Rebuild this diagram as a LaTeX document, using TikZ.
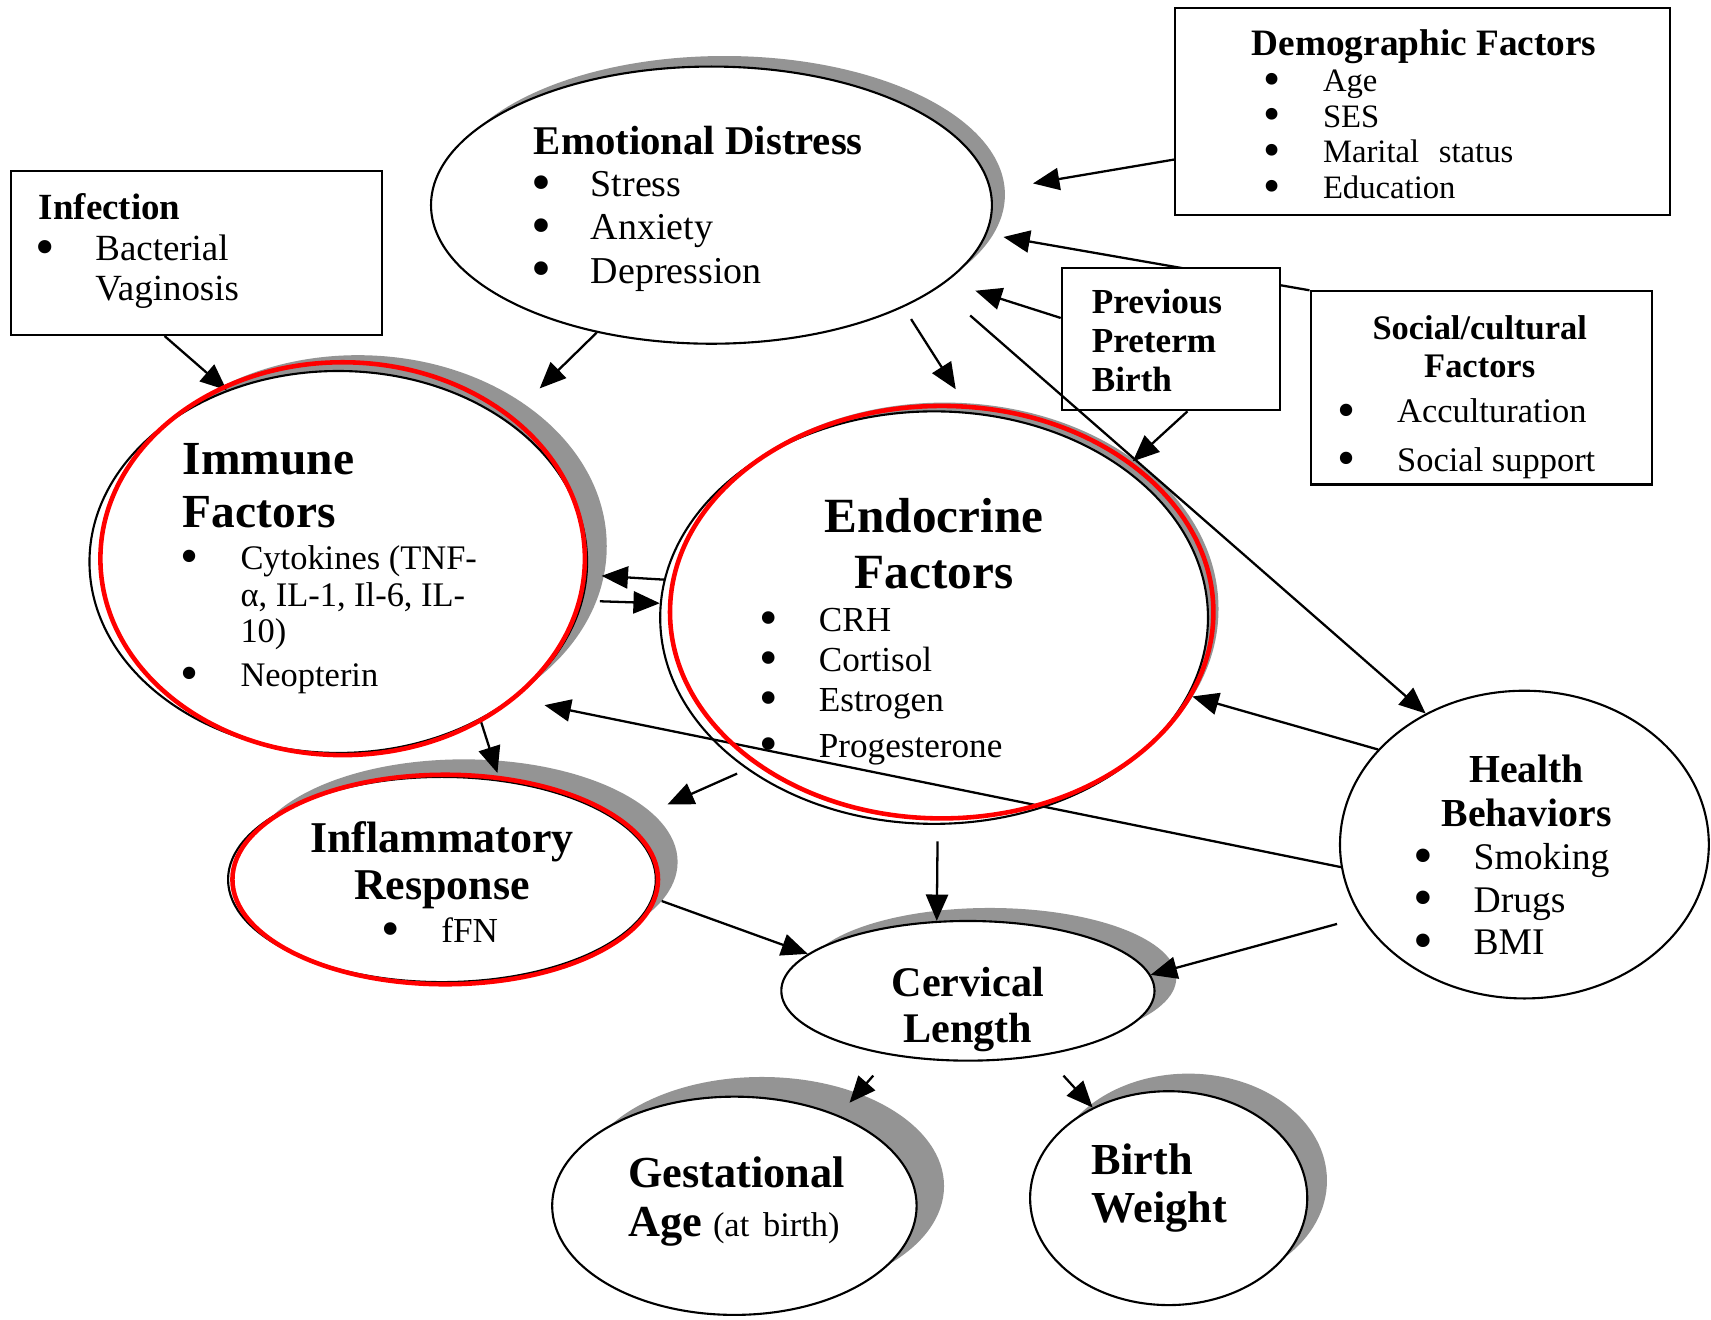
\documentclass[tikz,border=0pt]{standalone}
\usepackage{fontspec}
\usepackage{graphicx}
\setmainfont{Liberation Serif}
\usetikzlibrary{shapes.geometric,shadows,arrows.meta}
\newlength{\itmgap}
\setlength{\itmgap}{17pt}
\newcommand{\itm}[1]{\makebox[\itmgap][l]{\smash{\raisebox{-0.12em}{\scalebox{1.5}{\textbullet}}}}#1}
\newcommand{\fs}[2]{\fontsize{#1}{#2}\selectfont}
\newcommand{\pxu}{0.010912cm}

\begin{document}
\begin{tikzpicture}[x=\pxu, y=-\pxu,
    blob/.style={ellipse, draw, line width=0.6pt, fill=white, inner sep=0pt},
    shd/.style 2 args={drop shadow={shadow xshift=#1, shadow yshift=#2, fill=black!42, opacity=1}},
    box/.style={rectangle, draw, line width=0.6pt, fill=white, inner sep=0pt},
    arr/.style={line width=0.65pt, -{Triangle[length=7.5pt, width=6.3pt]}},
    hl/.style={draw=red, line width=1.3pt},
    txt/.style={inner sep=0pt, align=left, anchor=west},
    ttl/.style={inner sep=0pt, align=center}]
  \path[use as bounding box, fill=white] (0,0) rectangle (1568,1209);

  \node[blob, shd={3.7pt}{3pt}, minimum width=514*\pxu, minimum height=254*\pxu] (emo) at (652,188) {};
  \node[blob, shd={6.2pt}{5pt}, minimum width=392*\pxu, minimum height=188*\pxu] (infl) at (405,806) {};
  \node[blob, shd={5.6pt}{4.5pt}, minimum width=456*\pxu, minimum height=350*\pxu] (imm) at (310,515) {};
  \node[blob, shd={3pt}{2.5pt}, minimum width=502*\pxu, minimum height=378*\pxu] (endo) at (856,566) {};
  \node[blob, shd={6.2pt}{3.7pt}, minimum width=342*\pxu, minimum height=128*\pxu] (cerv) at (887,908) {};
  \node[blob, shd={7.8pt}{5.6pt}, minimum width=334*\pxu, minimum height=200*\pxu] (gest) at (673,1105) {};
  \node[blob, shd={5.6pt}{5pt}, minimum width=254*\pxu, minimum height=196*\pxu] (bw) at (1071,1098) {};
  \node[blob, minimum width=338*\pxu, minimum height=282*\pxu] (hb) at (1397,774) {};

  \node[box, minimum width=453*\pxu, minimum height=190*\pxu] (demo) at (1303.5,102) {};
  \node[box, minimum width=340*\pxu, minimum height=150*\pxu] (infec) at (180,232) {};
  \node[box, minimum width=313*\pxu, minimum height=177*\pxu] (soc) at (1357.5,355.5) {};
  \draw[arr, shorten >=4.8pt] (soc.north west) -- (emo.-6.4);
  \node[box, minimum width=200*\pxu, minimum height=130*\pxu] (prev) at (1073,311) {};

  \draw[arr, shorten >=12pt] (demo.191.2) -- (emo.3.5);
  \draw[arr, shorten >=8.5pt] (prev.169.8) -- (emo.-18.6);
  \draw[arr, shorten >=3pt] (prev.-77) -- (endo.38.8);
  \draw[arr, shorten <=4pt, shorten >=7.7pt] (emo.-28.5) -- (endo.80);
  \draw[arr, shorten <=12pt] (emo.-20) -- (hb.127);
  \draw[arr, shorten >=13pt] (emo.228.1) -- (imm.40.3);
  \draw[arr] (infec.-111.8) -- (imm.123.8);
  \draw[arr, shorten >=4pt] (endo.172) -- (imm.-3.8);
  \draw[arr, shorten <=4.8pt] (imm.-9.7) -- (endo.177);
  \draw[arr, shorten >=2pt] (imm.-48.2) -- (infl.60.2);
  \draw[arr, shorten <=3pt, shorten >=13.7pt] (endo.219.6) -- (infl.17.8);
  \draw[arr, shorten >=1pt] (hb.147.7) -- (endo.-17.4);
  \draw[arr, shorten >=9pt] (hb.187.8) -- (imm.-38.9);
  \draw[arr, shorten <=7pt] (hb.204.8) -- (cerv.5);
  \draw[arr, shorten <=4.7pt] (endo.-89) -- (cerv.114);
  \draw[arr, shorten <=2.5pt] (infl.-5.4) -- (cerv.167.7);
  \draw[arr, shorten <=7.6pt, shorten >=4.7pt] (cerv.-140.9) -- (gest.41.5);
  \draw[arr, shorten <=7.8pt] (cerv.-40.1) -- (bw.130.5);

  \node[ttl, font=\bfseries\fs{11.6}{14}] (emoT) at (640,129) {Emotional Distress};
  \node[txt, font=\fs{10.8}{12.3}] (emoL) at (486,212) {\itm{Stress}\\\itm{Anxiety}\\\itm{Depression}};
  \node[ttl, font=\bfseries\fs{10.6}{13}] (demoT) at (1305,43) {Demographic Factors};
  \node[txt, font=\fs{9.3}{10.15}] (demoL) at (1157,123) {\itm{Age}\\\itm{SES}\\\itm{Marital\hspace{0.6em}status}\\\itm{Education}};
  \node[txt, font=\bfseries\fs{10.5}{12}] (infecT) at (35,189) {Infection};
  \node[txt, font=\fs{10.5}{11.2}] (infecL) at (32,249) {\itm{Bacterial}\\\hspace*{\itmgap}Vaginosis};
  \node[txt, font=\bfseries\fs{10}{11}] (prevT) at (1000,312) {Previous\\Preterm\\Birth};
  \node[ttl, font=\bfseries\fs{9.8}{10.9}] (socT) at (1356,318) {Social/cultural\\Factors};
  \node[txt, font=\fs{9.8}{13.7}] (socL) at (1225,402) {\itm{Acculturation}\\\itm{Social support}};
  \node[txt, font=\bfseries\fs{13.5}{14.9}] (immT) at (167,445) {Immune\\Factors};
  \node[txt, font=\fs{9.8}{10.4}] (immL) at (165,568) {\itm{Cytokines (TNF-}\\\hspace*{\itmgap}α, IL-1, Il-6, IL-\\\hspace*{\itmgap}10)\\[2pt]\itm{Neopterin}};
  \node[ttl, font=\bfseries\fs{14}{15.8}] (endoT) at (856,498) {Endocrine\\Factors};
  \node[txt, font=\fs{10}{11.4}] (endoL) at (695,629) {\itm{CRH}\\\itm{Cortisol}\\\itm{Estrogen}\\[1.6pt]\itm{Progesterone}};
  \node[ttl, font=\bfseries\fs{12.5}{13.4}] (inflT) at (405,793) {Inflammatory\\Response};
  \node[txt, font=\fs{10}{12}] (inflL) at (349,852) {\itm{fFN}};
  \node[ttl, font=\bfseries\fs{12}{13}] (cervT) at (887,925) {Cervical\\Length};
  \node[txt, font=\bfseries\fs{12.6}{14}] (gestT) at (575,1101) {Gestational\\Age {\mdseries\fontsize{9.8}{14}\selectfont(at\hspace{0.4em}birth)}};
  \node[txt, font=\bfseries\fs{12.6}{13.7}] (bwT) at (1000,1089) {Birth\\Weight};
  \node[ttl, font=\bfseries\fs{11.3}{12.4}] (hbT) at (1399,725) {Health\\Behaviors};
  \node[txt, font=\fs{10.7}{12.1}] (hbL) at (1295,824) {\itm{Smoking}\\\itm{Drugs}\\\itm{BMI}};

  \draw[hl] (314,512) ellipse [x radius=222*\pxu, y radius=180*\pxu];
  \draw[hl] (863,561) ellipse [x radius=249*\pxu, y radius=189*\pxu];
  \draw[hl] (408,806) ellipse [x radius=195*\pxu, y radius=96*\pxu];
\end{tikzpicture}
\end{document}
